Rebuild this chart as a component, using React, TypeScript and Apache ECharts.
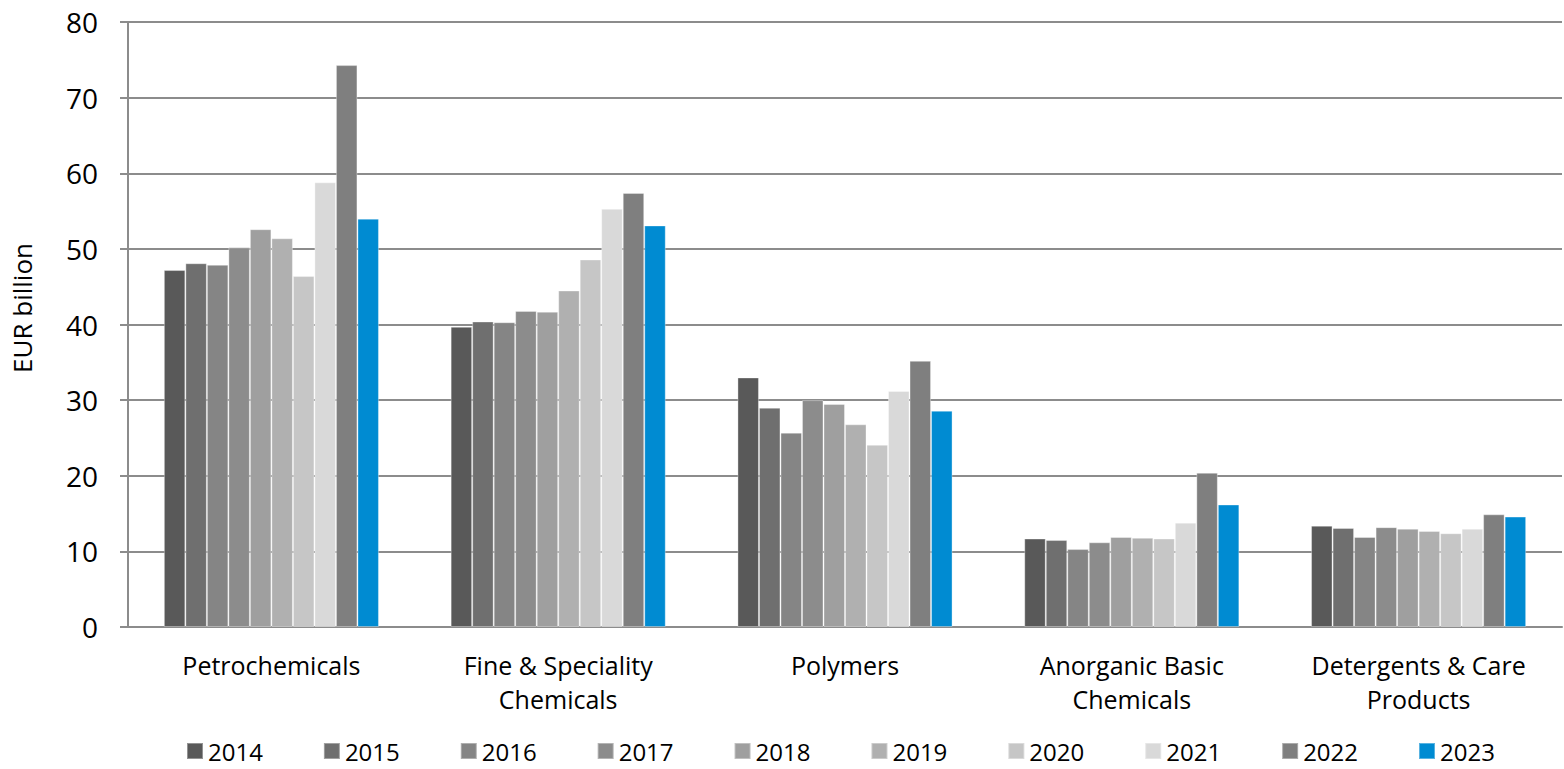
import React, { useEffect, useRef } from "react";
import * as echarts from "echarts";

const categories = [
  "Petrochemicals",
  "Fine & Speciality\nChemicals",
  "Polymers",
  "Anorganic Basic\nChemicals",
  "Detergents & Care\nProducts",
];

const years = ["2014", "2015", "2016", "2017", "2018", "2019", "2020", "2021", "2022", "2023"];

const colors = [
  "#595959", "#6f6f6f", "#858585", "#8c8c8c", "#9f9f9f",
  "#b0b0b0", "#c6c6c6", "#d9d9d9", "#7f7f7f", "#008bd2",
];

// values per year, one per category
const v2014 = [47.2, 39.7, 33.0, 11.7, 13.4];
const v2015 = [48.1, 40.4, 29.0, 11.5, 13.1];
const v2016 = [47.9, 40.3, 25.7, 10.3, 11.9];
const v2017 = [50.2, 41.8, 30.0, 11.2, 13.2];
const v2018 = [52.6, 41.7, 29.5, 11.9, 13.0];
const v2019 = [51.4, 44.5, 26.8, 11.8, 12.7];
const v2020 = [46.4, 48.6, 24.1, 11.7, 12.4];
const v2021 = [58.8, 55.3, 31.2, 13.8, 13.0];
const v2022 = [74.3, 57.4, 35.2, 20.4, 14.9];
const v2023 = [54.0, 53.1, 28.6, 16.2, 14.6];

const seriesValues = [v2014, v2015, v2016, v2017, v2018, v2019, v2020, v2021, v2022, v2023];

const yTicks = [0, 10, 20, 30, 40, 50, 60, 70, 80];
const yAxisTitle = "EUR billion";

const FONT = "'Open Sans', 'Noto Sans', sans-serif";

export default function App() {
  const ref = useRef<HTMLDivElement>(null);

  useEffect(() => {
    if (!ref.current) return;
    const chart = echarts.init(ref.current, undefined, { renderer: "svg" });
    chart.setOption({
      animation: false,
      backgroundColor: "#ffffff",
      color: colors,
      grid: { left: 128, top: 22, right: 2, bottom: 142, containLabel: false },
      graphic: [
        {
          type: "text",
          x: 22,
          y: 308,
          rotation: Math.PI / 2,
          style: {
            text: yAxisTitle,
            fontFamily: FONT,
            fontSize: 26,
            fill: "#000",
            align: "center",
            verticalAlign: "middle",
          },
        },
      ],
      legend: {
        bottom: 6,
        left: 186,
        padding: 0,
        itemWidth: 16,
        itemHeight: 16,
        itemGap: 60,
        icon: "rect",
        textStyle: { fontFamily: FONT, fontSize: 24, lineHeight: 22, color: "#000", padding: [0, 0, 0, 0] },
        data: years,
      },
      xAxis: {
        type: "category",
        data: categories,
        axisLine: { show: true, lineStyle: { color: "#8c8c8c", width: 2 } },
        axisTick: { show: false },
        axisLabel: {
          fontFamily: FONT,
          fontSize: 25,
          color: "#000",
          lineHeight: 34,
          margin: 21,
          interval: 0,
        },
      },
      yAxis: {
        type: "value",
        min: yTicks[0],
        max: yTicks[yTicks.length - 1],
        interval: 10,
        axisLine: { show: true, lineStyle: { color: "#8c8c8c", width: 2 } },
        axisTick: { show: true, inside: false, length: 8, lineStyle: { color: "#8c8c8c", width: 2 } },
        axisLabel: { fontFamily: FONT, fontSize: 28, color: "#000", margin: 30 },
        splitLine: { show: true, lineStyle: { color: "#8c8c8c", width: 2 } },
      },
      series: years.map((y, i) => ({
        name: y,
        type: "bar",
        data: seriesValues[i],
        barGap: "0%",
        barCategoryGap: "25%",
        itemStyle: { color: colors[i], borderColor: "rgba(255,255,255,0.35)", borderWidth: 1 },
      })),
    });
    return () => chart.dispose();
  }, []);

  return <div ref={ref} style={{ width: 1564, height: 769, position: "absolute", left: 0, top: 0 }} />;
}
